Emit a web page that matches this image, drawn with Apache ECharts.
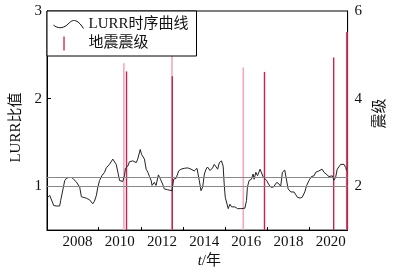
<!DOCTYPE html>
<html>
<head>
<meta charset="utf-8">
<script src="https://cdn.jsdelivr.net/npm/echarts@6/dist/echarts.min.js"></script>
<style>
  html, body { margin: 0; padding: 0; background: #fff; }
  #chart { width: 396px; height: 274px; }
</style>
</head>
<body>
<div id="chart"></div>
<script>
// LURR 时序曲线 (年份, 比值)
const lurrYears = [
  2006.57, 2006.68, 2006.74, 2006.87, 2006.99, 2007.07, 2007.15, 2007.20, 2007.31, 2007.39,
  2007.47, 2007.58, 2007.67, 2007.73, 2007.83, 2007.94, 2008.02, 2008.10, 2008.18, 2008.25,
  2008.41, 2008.57, 2008.72, 2008.80, 2008.89, 2008.96, 2009.04, 2009.15, 2009.28, 2009.36,
  2009.43, 2009.51, 2009.59, 2009.67, 2009.75, 2009.83, 2009.91, 2009.99, 2010.14, 2010.22,
  2010.27, 2010.38, 2010.46, 2010.62, 2010.78, 2010.85, 2010.97, 2011.04, 2011.12, 2011.17,
  2011.25, 2011.33, 2011.41, 2011.49, 2011.53, 2011.64, 2011.72, 2011.83, 2011.93, 2012.03,
  2012.11, 2012.19, 2012.27, 2012.35, 2012.48, 2012.55, 2012.67, 2012.79, 2012.90, 2013.06,
  2013.22, 2013.38, 2013.53, 2013.66, 2013.77, 2013.85, 2013.93, 2014.01, 2014.09, 2014.16,
  2014.28, 2014.40, 2014.48, 2014.56, 2014.64, 2014.72, 2014.82, 2014.90, 2014.95, 2015.00,
  2015.08, 2015.14, 2015.22, 2015.30, 2015.38, 2015.46, 2015.58, 2015.74, 2015.93, 2016.01,
  2016.05, 2016.13, 2016.24, 2016.32, 2016.37, 2016.45, 2016.53, 2016.65, 2016.73, 2016.81,
  2016.89, 2016.97, 2017.05, 2017.16, 2017.28, 2017.36, 2017.44, 2017.55, 2017.63, 2017.71,
  2017.82, 2017.90, 2017.98, 2018.11, 2018.26, 2018.34, 2018.42, 2018.55, 2018.65, 2018.77,
  2018.86, 2018.97, 2019.08, 2019.21, 2019.29, 2019.40, 2019.49, 2019.59, 2019.68, 2019.78,
  2019.84, 2019.92, 2020.00, 2020.07, 2020.15, 2020.23, 2020.31, 2020.39, 2020.47, 2020.55,
  2020.63, 2020.71, 2020.75
];
const lurrValues = [
  0.87, 0.895, 0.885, 0.78, 0.775, 0.795, 0.775, 0.84, 0.97, 1.065,
  1.09, 1.10, 1.09, 1.10, 1.075, 1.05, 1.03, 0.99, 0.88, 0.86,
  0.865, 0.845, 0.80, 0.83, 0.895, 0.99, 1.065, 1.12, 1.16, 1.21,
  1.20, 1.25, 1.27, 1.31, 1.315, 1.25, 1.16, 1.065, 1.055, 1.12,
  1.205, 1.23, 1.28, 1.29, 1.27, 1.31, 1.42, 1.36, 1.38, 1.31,
  1.195, 1.16, 1.11, 1.065, 1.01, 1.045, 1.01, 1.13, 1.08, 1.025,
  0.97, 0.99, 0.96, 0.97, 0.95, 1.08, 1.09, 1.175, 1.195, 1.205,
  1.21, 1.195, 1.175, 1.205, 1.065, 0.95, 0.99, 1.14, 1.195, 1.22,
  1.18, 1.21, 1.25, 1.23, 1.195, 1.27, 1.29, 1.23, 1.025, 0.875,
  0.86, 0.745, 0.795, 0.765, 0.785, 0.765, 0.745, 0.745, 0.75, 0.84,
  0.99, 1.065, 1.08, 1.14, 1.08, 1.16, 1.12, 1.195, 1.215, 1.10,
  1.11, 1.065, 1.025, 0.99, 0.99, 0.97, 1.045, 1.025, 1.00, 1.16,
  1.185, 1.195, 0.97, 0.935, 0.935, 0.915, 0.875, 0.865, 0.875, 0.935,
  1.01, 1.065, 1.11, 1.12, 1.16, 1.17, 1.16, 1.195, 1.16, 1.14,
  1.15, 1.11, 1.10, 1.12, 1.07, 1.10, 1.195, 1.215, 1.25, 1.245,
  1.25, 1.215, 1.18
];

// 地震 (年份, 震级)
const quakeYears = [2010.32, 2012.49, 2016.86, 2020.14, 2020.77];
const quakeMags = [4.62, 4.51, 4.61, 4.94, 5.52];
const quakeYearsLight = [2010.19, 2012.47, 2015.85, 2020.75];
const quakeMagsLight = [4.81, 5.4, 4.71, 5.52];

// 参考线
const refLevels = [1.0, 1.1];

// 刻度
const yearLabels = [2008, 2010, 2012, 2014, 2016, 2018, 2020];
const yearTicks = [2009, 2011, 2013, 2015, 2017, 2019];
const ratioTicks = [1, 2, 3];
const magTicks = [2, 4, 6];

const FONT = "'Liberation Serif', 'Noto Sans CJK SC', serif";

const chart = echarts.init(document.getElementById('chart'), null, { renderer: 'canvas' });

chart.setOption({
  animation: false,
  backgroundColor: '#fff',
  textStyle: { fontFamily: FONT, color: '#111' },
  grid: {
    left: 47, right: 47, top: 11, height: 220,
    show: true, borderColor: '#000', borderWidth: 1
  },
  legend: {
    left: 47, top: 11,
    orient: 'vertical',
    padding: [6, 8, 5, 6],
    itemGap: 4,
    itemWidth: 30,
    itemHeight: 14,
    borderColor: '#000',
    borderWidth: 1,
    borderRadius: 0,
    backgroundColor: '#fff',
    z: 10,
    textStyle: { fontFamily: FONT, fontSize: 15, color: '#111' },
    data: [
      {
        name: 'LURR时序曲线',
        icon: 'path://M0,5 C4,8 8,8 12,5 C15,2 17,0 20,1 C23,2 25,5 27,8',
        itemStyle: { color: 'transparent', borderColor: '#111', borderWidth: 1 }
      },
      {
        name: '地震震级',
        icon: 'path://M0,0 L1.4,0 L1.4,15 L0,15 Z M11,7 L11,7'
      }
    ]
  },
  xAxis: {
    type: 'value',
    min: 2006.55,
    max: 2020.8,
    name: '{i|t}/年',
    nameLocation: 'middle',
    nameGap: 20,
    nameTextStyle: {
      fontFamily: FONT, fontSize: 15, color: '#111',
      padding: [0, 0, 0, 24],
      rich: { i: { fontFamily: FONT, fontSize: 15, fontStyle: 'italic', color: '#111' } }
    },
    axisLine: { lineStyle: { color: '#000', width: 1 } },
    axisTick: { inside: true, length: 3, customValues: yearTicks, lineStyle: { color: '#000' } },
    axisLabel: {
      customValues: yearLabels, margin: 4, fontSize: 15, color: '#111', fontFamily: FONT,
      formatter: v => String(Math.round(v))
    },
    splitLine: { show: false }
  },
  yAxis: [
    {
      type: 'value',
      min: 0.5,
      max: 3,
      name: 'LURR比值',
      nameLocation: 'middle',
      nameGap: 22,
      nameTextStyle: { fontFamily: FONT, fontSize: 15, color: '#111', padding: [0, 14, 0, 0] },
      axisLine: { show: true, lineStyle: { color: '#000', width: 1 } },
      axisTick: { show: true, inside: true, length: 4, customValues: ratioTicks, lineStyle: { color: '#000' } },
      axisLabel: { customValues: ratioTicks, margin: 5, fontSize: 15, color: '#111', fontFamily: FONT },
      splitLine: { show: false }
    },
    {
      type: 'value',
      min: 1,
      max: 6,
      name: '震级',
      nameLocation: 'middle',
      nameGap: 21,
      nameTextStyle: { fontFamily: FONT, fontSize: 15, color: '#111', padding: [0, 0, 0, 14] },
      axisLine: { show: true, lineStyle: { color: '#000', width: 1 } },
      axisTick: { show: false },
      axisLabel: { customValues: magTicks, margin: 7, fontSize: 15, color: '#111', fontFamily: FONT },
      splitLine: { show: false }
    }
  ],
  series: [
    {
      name: '地震震级(浅)',
      type: 'bar',
      yAxisIndex: 1,
      barWidth: 1.6,
      barGap: '-100%',
      itemStyle: { color: '#f2a9be' },
      data: quakeYearsLight.map((y, i) => [y, quakeMagsLight[i]]),
      z: 1
    },
    {
      name: '地震震级',
      type: 'bar',
      yAxisIndex: 1,
      barWidth: 1.4,
      barGap: '-100%',
      itemStyle: { color: '#cc1f4a' },
      data: quakeYears.map((y, i) => [y, quakeMags[i]]),
      z: 2
    },
    {
      name: 'LURR时序曲线',
      type: 'line',
      yAxisIndex: 0,
      showSymbol: false,
      symbol: 'none',
      lineStyle: { color: '#222', width: 1 },
      itemStyle: { color: '#222' },
      data: lurrYears.map((y, i) => [y, lurrValues[i]]),
      markLine: {
        silent: true,
        symbol: 'none',
        label: { show: false },
        lineStyle: { color: '#888', width: 1, type: 'solid' },
        data: refLevels.map(v => ({ yAxis: v }))
      },
      z: 3
    }
  ]
});
</script>
</body>
</html>
